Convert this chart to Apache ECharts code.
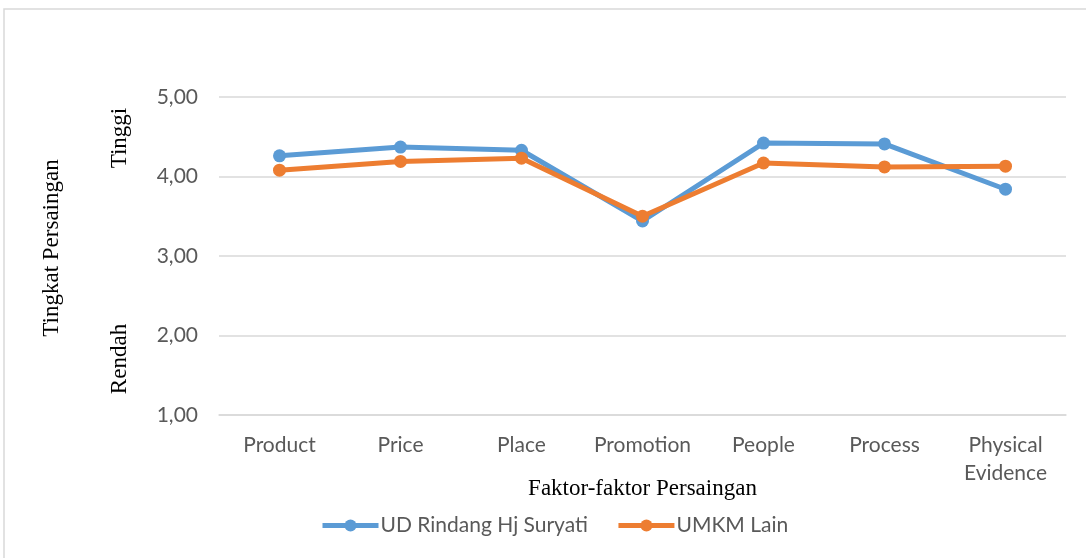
<!DOCTYPE html>
<html>
<head>
<meta charset="utf-8">
<script src="https://cdn.jsdelivr.net/npm/echarts@6/dist/echarts.min.js"></script>
<style>
html, body { margin: 0; padding: 0; background: #fff; }
#main { width: 1086px; height: 558px; }
</style>
</head>
<body>
<div id="main"></div>
<script>
var categories = ['Product', 'Price', 'Place', 'Promotion', 'People', 'Process', 'Physical\nEvidence'];
var udRindang = [4.26, 4.37, 4.33, 3.44, 4.42, 4.41, 3.84];
var umkmLain = [4.08, 4.19, 4.23, 3.50, 4.17, 4.12, 4.13];

var chart = echarts.init(document.getElementById('main'));

var option = {
	backgroundColor: '#fff',
	animation: false,
	color: ['#5B9BD5', '#ED7D31'],
	grid: { left: 219, right: 20, top: 97, bottom: 143 },
	legend: {
		bottom: 17,
		left: 315,
		itemWidth: 56,
		itemHeight: 15,
		itemGap: 28,
		lineStyle: { width: 5 },
		textStyle: { fontFamily: 'Lato', fontSize: 21, color: '#595959', padding: [0, 0, 0, -3] },
		data: ['UD Rindang Hj Suryati', 'UMKM Lain']
	},
	xAxis: {
		type: 'category',
		data: categories,
		boundaryGap: true,
		name: 'Faktor-faktor Persaingan',
		nameLocation: 'middle',
		nameGap: 62,
		nameMoveOverlap: false,
		nameTextStyle: { fontFamily: 'Liberation Serif', fontSize: 23, color: '#000' },
		axisLine: { lineStyle: { color: '#d9d9d9', width: 1.5 } },
		axisTick: { show: false },
		axisLabel: { fontFamily: 'Lato', fontSize: 21, color: '#595959', margin: 16, lineHeight: 28, interval: 0 }
	},
	yAxis: {
		type: 'value',
		min: 1,
		max: 5,
		interval: 1,
		axisLine: { show: false },
		axisTick: { show: false },
		splitLine: { lineStyle: { color: '#d9d9d9', width: 1.5 } },
		axisLabel: {
			fontFamily: 'Lato', fontSize: 21, color: '#595959', margin: 21,
			formatter: function (v) { return v.toFixed(2).replace('.', ','); }
		}
	},
	graphic: [
		{ type: 'rect', shape: { x: 4, y: 9, width: 1200, height: 700 }, style: { fill: 'none', stroke: '#d9d9d9', lineWidth: 1.5 }, silent: true },
		{ type: 'text', x: 52, y: 248, rotation: Math.PI / 2, style: { text: 'Tingkat Persaingan', font: '23px "Liberation Serif"', fill: '#000', align: 'center', verticalAlign: 'middle' } },
		{ type: 'text', x: 120, y: 138, rotation: Math.PI / 2, style: { text: 'Tinggi', font: '23px "Liberation Serif"', fill: '#000', align: 'center', verticalAlign: 'middle' } },
		{ type: 'text', x: 120, y: 359, rotation: Math.PI / 2, style: { text: 'Rendah', font: '23px "Liberation Serif"', fill: '#000', align: 'center', verticalAlign: 'middle' } }
	],
	series: [
		{
			name: 'UD Rindang Hj Suryati',
			type: 'line',
			data: udRindang,
			symbol: 'circle',
			symbolSize: 13,
			lineStyle: { width: 5 }
		},
		{
			name: 'UMKM Lain',
			type: 'line',
			data: umkmLain,
			symbol: 'circle',
			symbolSize: 13,
			lineStyle: { width: 5 }
		}
	]
};

chart.setOption(option);
</script>
</body>
</html>
